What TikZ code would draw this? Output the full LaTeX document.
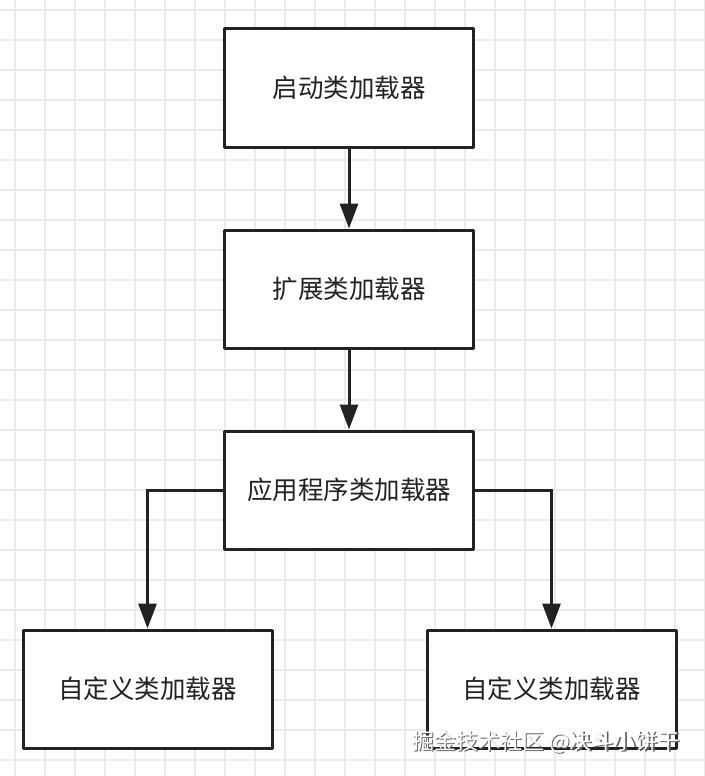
\documentclass[tikz,border=0pt]{standalone}
\usepackage{fontspec}
\newfontfamily\cjk{Noto Sans CJK SC}
\usetikzlibrary{arrows.meta}
\definecolor{ink}{HTML}{222222}
\definecolor{gridc}{HTML}{EBEBEB}
\tikzset{
  box/.style={draw=ink, line width=3pt, line join=round, fill=white, inner sep=0pt,
    minimum width=249pt, minimum height=118pt, font=\cjk\fontsize{25.5pt}{30pt}\selectfont, text=ink},
  conn/.style={draw=ink, line width=3pt, -{Triangle[length=25pt,width=18pt]}},
}
\begin{document}
\begin{tikzpicture}[x=1pt,y=-1pt]
\useasboundingbox (0,0) rectangle (704,776);
\fill[white] (0,0) rectangle (704,776);
\foreach \i in {0,...,23} {\draw[gridc, line width=1.4pt] (15+30*\i,0) -- (15+30*\i,776);}
\foreach \j in {0,...,25} {\draw[gridc, line width=1.4pt] (0,10+30*\j) -- (704,10+30*\j);}
\node[box] (b1) at (349,88) {启动类加载器};
\node[box] (b2) at (349,289) {扩展类加载器};
\node[box] (b3) at (349,490) {应用程序类加载器};
\node[box] (b4) at (147.5,689) {自定义类加载器};
\node[box] (b5) at (551.5,689) {自定义类加载器};
\draw[conn] (b1) -- (b2);
\draw[conn] (b2) -- (b3);
\draw[conn] (b3.west) -| (b4.north);
\draw[conn] (b3.east) -| (b5.north);
\node[font=\cjk\fontsize{22pt}{26pt}\selectfont, text=black!60] (wms) at (547.5,743.5) {掘金技术社区 @决斗小饼干};
\node[font=\cjk\fontsize{22pt}{26pt}\selectfont, text=white] (wm) at (546,742) {掘金技术社区 @决斗小饼干};
\end{tikzpicture}
\end{document}
